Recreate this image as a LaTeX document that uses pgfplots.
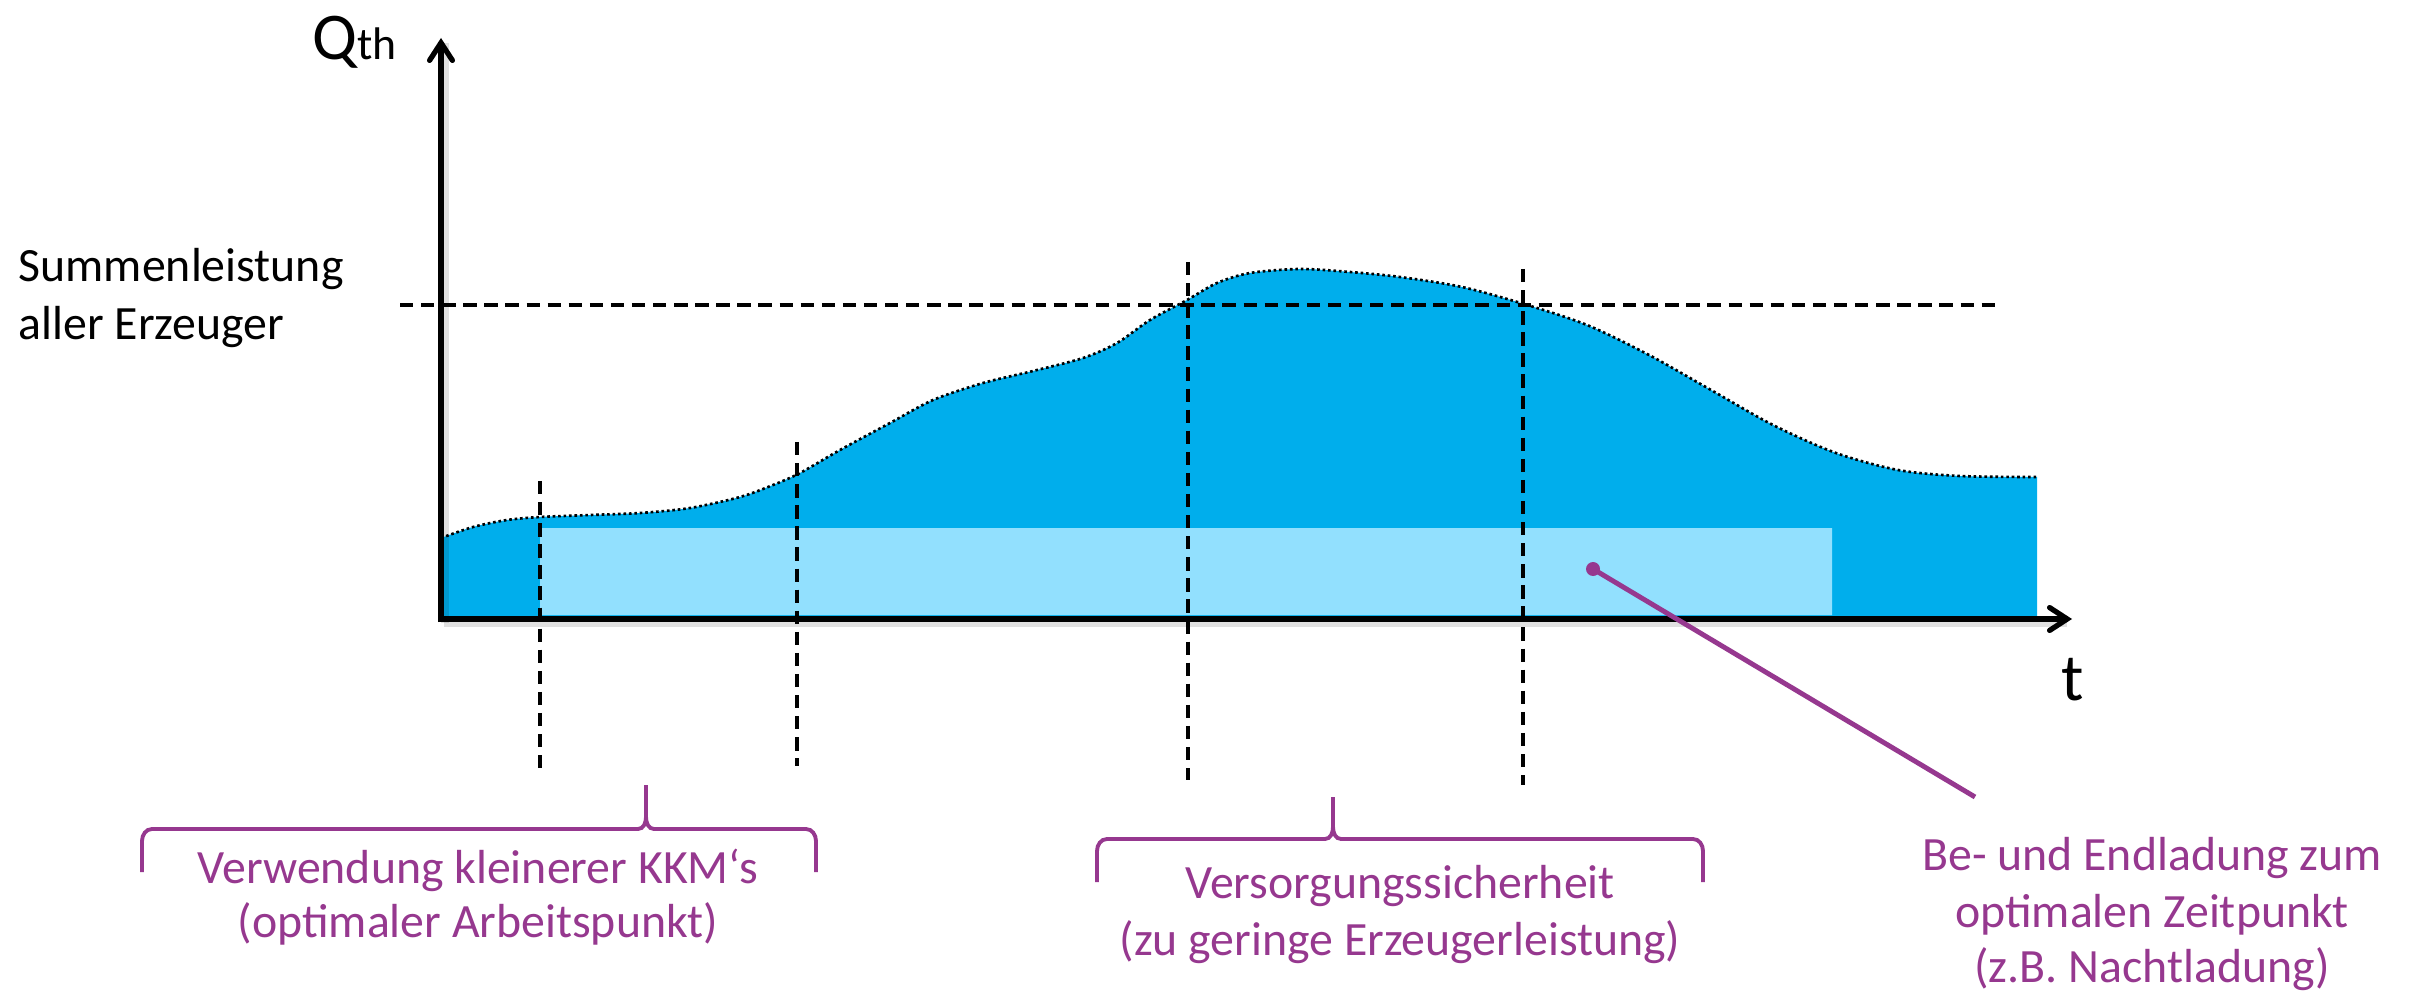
\documentclass[border=0pt]{standalone}
\usepackage{fontspec}
\setmainfont{Carlito}
\usepackage{pgfplots}
\usepackage{pgfplotstable}
\pgfplotsset{compat=1.18}
\usetikzlibrary{arrows.meta}

\definecolor{qblue}{RGB}{0,174,236}
\definecolor{qlight}{RGB}{146,224,254}
\definecolor{anno}{RGB}{150,56,143}

\newcommand\txt{\fontsize{13.6}{16}\selectfont}

% thermal demand over time (t, Q)
\pgfplotstableread{
t     Q
0     81
32    92
66    99
99    102
149   104
199   106
249   111
299   122
332   134
359   146
399   169
449   196
492   219
542   236
592   248
642   261
676   276
709   299
746   319
776   336
809   346
859   350
909   347
959   342
1021  332
1083  315
1146  294
1208  264
1270  229
1332  194
1395  166
1457  149
1519  143
1596  142
}\demand

\begin{document}
\begin{tikzpicture}
\begin{axis}[
  name=ax,
  width=24.13cm, height=9.92cm, scale only axis,
  xmin=-441, xmax=1972, ymin=-373, ymax=619,
  hide axis, clip=false,
  dashes/.style={black, line width=1.05pt, dash pattern=on 3.8pt off 2.2pt},
]

% demand area
\addplot [draw=none, fill=qblue, smooth] table {\demand} \closedcycle;
% storage band
\addplot [draw=none, fill=qlight] coordinates {(99,4) (99,91) (1391,91) (1391,4) (99,4)};

% phase markers
\addplot [dashes] coordinates {(99,138) (99,-151)};
\addplot [dashes] coordinates {(356,177) (356,-147)};
\addplot [dashes] coordinates {(747,357) (747,-161)};
\addplot [dashes] coordinates {(1082,350) (1082,-166)};
% total generator capacity
\addplot [dashes] coordinates {(-41,314) (1557,314)};

% demand outline
\addplot [black, line width=0.75pt, dash pattern=on 0.75pt off 0.8pt, smooth] table {\demand};

% axes with a soft shadow
\draw [black, opacity=0.12, line width=2pt] (3,-4) -- (1626,-4);
\draw [black, opacity=0.12, line width=2pt] (4,-4) -- (4,576);
\draw [line width=1.5pt, -{Straight Barb[length=5pt,width=6.5pt,line cap=round]}] (0,-3) -- (0,581);
\draw [line width=1.5pt, -{Straight Barb[length=5pt,width=6.5pt,line cap=round]}] (-2,0) -- (1631,0);

\node [anchor=base west, inner sep=0] at (-129,559) {\fontsize{19}{22}\selectfont Q\fontsize{13}{15}\selectfont th};
\node [anchor=base, inner sep=0] at (1632,-81) {\fontsize{19}{22}\selectfont t};

\node [anchor=base west, inner sep=0] at (-423,337) {\txt Summenleistung};
\node [anchor=base west, inner sep=0] at (-423,279) {\txt aller Erzeuger};

% braces
\draw [anno, line width=1.1pt]
  (-299,-253) -- (-299,-222) to[out=90,in=180] (-289,-210) -- (197,-210)
  to[out=0,in=-90] (205,-198) -- (205,-166)
  (205,-166) -- (205,-198) to[out=-90,in=180] (213,-210) -- (365,-210)
  to[out=0,in=90] (375,-222) -- (375,-253);
\draw [anno, line width=1.1pt]
  (656,-263) -- (656,-232) to[out=90,in=180] (666,-220) -- (884,-220)
  to[out=0,in=-90] (892,-208) -- (892,-178)
  (892,-178) -- (892,-208) to[out=-90,in=180] (900,-220) -- (1252,-220)
  to[out=0,in=90] (1262,-232) -- (1262,-263);

\node [anchor=base, inner sep=0, text=anno] at (37,-264) {\txt Verwendung kleinerer KKM‘s};
\node [anchor=base, inner sep=0, text=anno] at (37,-318) {\txt (optimaler Arbeitspunkt)};

\node [anchor=base, inner sep=0, text=anno] at (959,-279) {\txt Versorgungssicherheit};
\node [anchor=base, inner sep=0, text=anno] at (959,-336) {\txt (zu geringe Erzeugerleistung)};

% charging annotation
\draw [anno, line width=1.4pt] (1152,50) -- (1534,-178);
\fill [anno] (1152,50) circle [radius=7];

\node [anchor=base, inner sep=0, text=anno] at (1711,-251) {\txt Be- und Endladung zum};
\node [anchor=base, inner sep=0, text=anno] at (1711,-308) {\txt optimalen Zeitpunkt};
\node [anchor=base, inner sep=0, text=anno] at (1711,-363) {\txt (z.B. Nachtladung)};

\end{axis}
\pgfresetboundingbox
\useasboundingbox (ax.south west) rectangle (ax.north east);
\end{tikzpicture}
\end{document}
